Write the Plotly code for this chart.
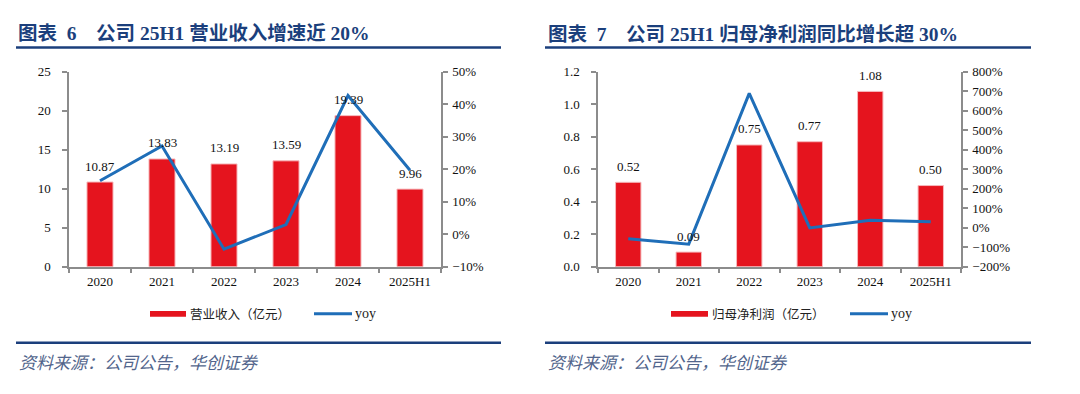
import plotly.graph_objects as go

W, H = 1080, 394

# ---------------- data ----------------
categories = ["2020", "2021", "2022", "2023", "2024", "2025H1"]
revenue = [10.87, 13.83, 13.19, 13.59, 19.39, 9.96]            # 亿元
revenue_yoy = [16.5, 27.2, -4.6, 3.0, 42.7, 19.7]              # %
net_profit = [0.52, 0.09, 0.75, 0.77, 1.08, 0.50]              # 亿元
net_profit_yoy = [-56, -84, 690, -1, 38, 31]                   # %
revenue_labels = ["10.87", "13.83", "13.19", "13.59", "19.39", "9.96"]
profit_labels = ["0.52", "0.09", "0.75", "0.77", "1.08", "0.50"]

RED = "#E5141E"
BLUE = "#1F6EB8"
NAVY = "#1B3F7C"
GREY = "#8C8C8C"
SERIF = "Liberation Serif, Times New Roman, Noto Sans CJK SC, serif"
CJK = "Liberation Serif, Noto Sans CJK SC, serif"


def px(x):
    return x / W


def py(y):
    return 1 - y / H


fig = go.Figure()

# Left chart
fig.add_trace(go.Bar(x=categories, y=revenue, marker=dict(color=RED, line=dict(color="#F6B9BC", width=1)),
                     width=0.42, xaxis="x", yaxis="y", showlegend=False, hoverinfo="x+y"))
fig.add_trace(go.Scatter(x=categories, y=revenue_yoy, mode="lines", line=dict(color=BLUE, width=3),
                         xaxis="x", yaxis="y2", showlegend=False))
# Right chart
fig.add_trace(go.Bar(x=categories, y=net_profit, marker=dict(color=RED, line=dict(color="#F6B9BC", width=1)),
                     width=0.42, xaxis="x2", yaxis="y3", showlegend=False, hoverinfo="x+y"))
fig.add_trace(go.Scatter(x=categories, y=net_profit_yoy, mode="lines", line=dict(color=BLUE, width=3),
                         xaxis="x2", yaxis="y4", showlegend=False))

annotations = []
for i, (v, t) in enumerate(zip(revenue, revenue_labels)):
    annotations.append(dict(x=i, y=v, xref="x", yref="y", text=t, showarrow=False, yshift=16,
                            font=dict(family=SERIF, size=13, color="#111")))
for i, (v, t) in enumerate(zip(net_profit, profit_labels)):
    annotations.append(dict(x=i, y=v, xref="x2", yref="y3", text=t, showarrow=False, yshift=16,
                            font=dict(family=SERIF, size=13, color="#111")))

axis_common = dict(showgrid=False, zeroline=False, showline=True, linecolor=GREY, linewidth=1.5,
                   ticks="outside", ticklen=5, tickcolor=GREY, tickwidth=1.5,
                   tickfont=dict(family=SERIF, size=13, color="#111"))

xrange = [-0.5, len(categories) - 0.5]
ydom = [py(270), py(67.5)]
fig.update_layout(
    width=W, height=H, margin=dict(l=0, r=0, t=0, b=0),
    paper_bgcolor="white", plot_bgcolor="white",
    xaxis=dict(domain=[px(69), px(441)], anchor="y", type="category", tickson="boundaries",
               range=xrange, tickangle=0, ticklabelstandoff=2, **axis_common),
    yaxis=dict(domain=ydom, anchor="x", range=[0, 25], dtick=5, ticklabelstandoff=9, **axis_common),
    yaxis2=dict(domain=ydom, anchor="x", overlaying="y", side="right", range=[-10, 50], dtick=10,
                ticksuffix="%", ticklabelstandoff=2, **axis_common),
    xaxis2=dict(domain=[px(598), px(961)], anchor="y3", type="category", tickson="boundaries",
                range=xrange, tickangle=0, ticklabelstandoff=2, **axis_common),
    yaxis3=dict(domain=ydom, anchor="x2", range=[0, 1.2], dtick=0.2, tickformat=".1f",
                ticklabelstandoff=9, **axis_common),
    yaxis4=dict(domain=ydom, anchor="x2", overlaying="y3", side="right", range=[-200, 800], dtick=100,
                ticksuffix="%", ticklabelstandoff=2, **axis_common),
)

shapes = []
# title rules and bottom rules
for x0, x1 in [(16, 501), (545, 1031)]:
    shapes.append(dict(type="line", xref="paper", yref="paper", x0=px(x0), x1=px(x1), y0=py(42), y1=py(42),
                       line=dict(color=NAVY, width=2.5)))
    shapes.append(dict(type="line", xref="paper", yref="paper", x0=px(x0), x1=px(x1), y0=py(349), y1=py(349),
                       line=dict(color=NAVY, width=2.5)))

# titles
annotations.append(dict(x=px(16), y=py(28), xref="paper", yref="paper", xanchor="left", yanchor="middle",
                        text="<b>图表  6    公司 25H1 营业收入增速近 20%</b>", showarrow=False,
                        font=dict(family=CJK, size=19.5, color=NAVY)))
annotations.append(dict(x=px(546), y=py(28), xref="paper", yref="paper", xanchor="left", yanchor="middle",
                        text="<b>图表  7    公司 25H1 归母净利润同比增长超 30%</b>", showarrow=False,
                        font=dict(family=CJK, size=19.5, color=NAVY)))
# footnotes
for x0 in [17, 546]:
    annotations.append(dict(x=px(x0), y=py(369), xref="paper", yref="paper", xanchor="left", yanchor="middle",
                            text="<i>资料来源：公司公告，华创证券</i>", showarrow=False,
                            font=dict(family="Noto Sans CJK SC", size=17, color="#52658C")))

# legends (manual)
legend_items = [
    (150, 186, "营业收入（亿元）", 314, 352),
    (671, 708, "归母净利润（亿元）", 850, 888),
]
for rx0, rx1, label, lx0, lx1 in legend_items:
    shapes.append(dict(type="rect", xref="paper", yref="paper", x0=px(rx0), x1=px(rx1), y0=py(322), y1=py(316),
                       fillcolor=RED, line=dict(width=0)))
    annotations.append(dict(x=px(rx1 + 2), y=py(319), xref="paper", yref="paper", xanchor="left",
                            yanchor="middle", text=label, showarrow=False,
                            font=dict(family="Noto Sans CJK SC", size=12.5, color="#222")))
    shapes.append(dict(type="line", xref="paper", yref="paper", x0=px(lx0), x1=px(lx1), y0=py(319), y1=py(319),
                       line=dict(color=BLUE, width=3)))
    annotations.append(dict(x=px(lx1 + 1), y=py(319), xref="paper", yref="paper", xanchor="left",
                            yanchor="middle", text="yoy", showarrow=False,
                            font=dict(family=SERIF, size=14, color="#222")))

fig.update_layout(shapes=shapes, annotations=annotations)
fig.write_html("out.html", config=dict(displayModeBar=False),
               post_script="document.body.style.margin='0';document.body.style.overflow='hidden';")
